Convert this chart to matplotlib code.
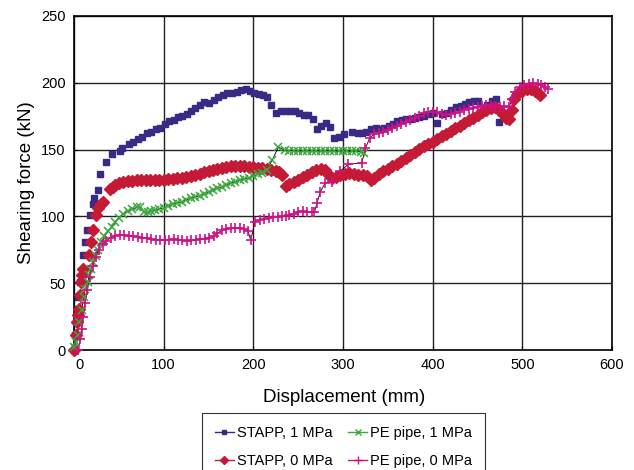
import matplotlib
matplotlib.use("Agg")
import matplotlib.pyplot as plt
import matplotlib.transforms as mtransforms
from matplotlib.lines import Line2D

plt.rcParams['font.family'] = ['Liberation Sans', 'DejaVu Sans']

# STAPP, 1 MPa (squares)
stapp1_x = [1, 1, 2, 4, 5, 7, 9.5, 10, 12.5, 15, 17.5, 21, 22, 26.5, 29, 35.5, 42, 51, 54, 61, 66, 71, 76, 81,
            86, 91, 95.5, 101, 106, 111, 115.5, 121, 125.5, 130.5, 135.5, 140.5, 145, 150, 155.7, 161, 166, 171,
            176.5, 181.7, 186.5, 191.3, 195.8, 201, 205.8, 210.7, 215.5, 220, 225.5, 230.7, 236, 241, 246.3, 250.8,
            256, 260.8, 266, 270.6, 276, 281, 286, 290.4, 295.7, 300.7, 309.6, 316.8, 321.3, 326, 331, 336.5,
            341.6, 346, 350.8, 355.6, 360.5, 365.5, 370.6, 375.8, 380.6, 384.7, 390.3, 395.5, 400.7, 405, 410.7,
            415.6, 421, 426.3, 431.3, 436, 440.8, 446, 450.8, 460.8, 466.4, 471, 474.2]
stapp1_y = [0, 11, 21, 31, 40, 51, 61, 71, 81, 90, 101, 109, 113.5, 120, 132, 141, 146.5, 149, 151, 154, 155.7,
            158, 159.4, 162.4, 163.2, 165.4, 166.2, 169.2, 171.2, 172, 174.2, 175, 176.6, 178.9, 181.1, 183.4,
            185.6, 184.7, 186.9, 189.4, 191.1, 192.6, 192.1, 193.3, 194.4, 195.4, 193.6, 192.4, 191.6, 191.1,
            189.6, 183.4, 177.6, 179.1, 179.1, 179.1, 178.9, 177.6, 175.9, 175.7, 172.7, 165.4, 167.8, 169.9,
            166.7, 158.7, 159.4, 161.5, 163, 162.4, 162.6, 163.2, 165.3, 165.9, 165.3, 165.8, 167.9, 169, 171.4,
            172.4, 172.9, 172.9, 173.3, 174.4, 175.1, 176.6, 177.6, 169.7, 176.9, 177.2, 179.3, 181.9, 183,
            184.1, 185.4, 186.1, 186.2, 183.4, 186.5, 187.9, 170.7]

# STAPP, 0 MPa (diamonds)
stapp0_x = [0.5, 1.7, 3.5, 5, 6, 6.7, 7.5, 8.7, 10.2, 17, 18.5, 21, 24, 27, 30, 32,
            40, 43, 46, 50, 55, 60, 65, 70, 75, 80, 85, 90, 95, 100, 105, 110, 115, 120, 125, 130, 135, 140,
            145, 150, 155, 160, 165, 170, 175, 180, 185, 190, 195, 200, 205, 210, 215, 220, 225, 229, 232,
            236, 240, 245, 250, 255, 260, 265, 270, 275, 280, 284, 288, 292, 297, 302, 307, 312, 317, 322, 327,
            331, 335, 340, 345, 350, 355, 360, 365, 370, 375, 380, 385, 390, 395, 400, 405, 410, 415, 420, 425,
            430, 435, 440, 445, 450, 455, 460, 465, 470, 474, 478, 482, 485, 488, 491, 495, 500, 505, 510, 514,
            518, 520]
stapp0_y = [0, 11, 21, 26, 31, 41, 51, 56, 61, 71, 81, 90, 101, 106, 109, 111,
            120.5, 122, 123.5, 125, 126, 126.5, 126.8, 127, 127, 127, 127, 127.2, 127.3, 127.5, 127.8, 128,
            128.5, 129, 129.6, 130.3, 131, 132, 133, 134, 134.7, 135.5, 136.3, 137, 137.6, 138, 138, 137.7,
            137.3, 137, 136.6, 136, 135.3, 134.7, 134, 133, 131,
            123, 124, 126, 127.5, 129.5, 131, 133, 134.5, 135.5, 134.5, 131, 128.5, 129.5, 131, 131.8, 132.2,
            131.8, 131.2, 130.8, 130, 127, 129, 131.5, 134, 135.5, 137.5, 139.5, 141.8, 144, 146, 148.5, 150.5,
            152.5, 154, 156, 158, 160, 162, 164, 166, 168, 170, 172, 174, 176, 178, 179.5, 181, 182, 180, 177,
            174, 173, 180, 188, 192, 194, 195, 195.5, 194, 192, 190.5]

# PE pipe, 1 MPa (x)
pe1_x = [0.5, 2, 4.2, 6, 8.4, 11, 12.8, 15.4, 17, 19.1, 21.5, 24.3, 27, 30.3, 34, 38, 42, 46, 50, 55, 60, 65,
         70, 74, 78, 82, 86, 90, 95, 100, 105, 110, 115, 120, 125, 130, 135, 140, 145, 150, 155, 160, 165, 170,
         175, 180, 185, 190, 195, 200, 205, 210, 215, 221, 228, 235, 240, 245, 250, 255, 260, 265, 270, 275,
         280, 285, 290, 295, 300, 305, 310, 315, 320, 323]
pe1_y = [2, 6, 11, 21, 30, 40, 46, 51, 56, 61, 66, 70.5, 75, 80.5, 85, 89, 92.3, 95.5, 98.5, 102, 104, 105.3,
         106.8, 107.3, 103.5, 103, 103.8, 104.5, 105.5, 106.5, 107.5, 109, 110, 111, 112.3, 113.5, 114.5,
         115.5, 117, 118, 119.5, 121, 122, 123.5, 125, 126, 127, 128, 129, 130, 131.5, 132.5, 134.5, 142, 152,
         149.5, 149.2, 149, 148.8, 149, 149.1, 148.9, 149, 148.8, 149, 148.9, 149, 148.7, 148.9, 148.8, 148.6,
         148.8, 148.5, 147.5]

# PE pipe, 0 MPa (+)
pe0_x = [5, 7, 8.5, 10, 12.5, 15, 18, 21, 24, 28, 32, 36, 41, 46, 51, 56, 61, 66, 71, 76, 81, 86, 91, 96, 101,
         106, 111, 116, 121, 126, 131, 136, 141, 146, 151, 156, 160, 165, 170, 175, 180, 185, 190, 194, 197,
         202, 207, 212, 217, 222, 227, 232, 236, 240, 245, 250, 255, 260, 265, 268, 271, 274.5, 280, 287.5,
         297, 306, 321, 325, 330, 335, 340, 345, 350, 355, 360, 365, 370, 375, 380, 385, 390, 395, 400, 405,
         410, 415, 420, 425, 430, 435, 440, 445, 450, 455, 460, 465, 470, 475, 480, 485, 489, 492, 497, 502,
         507, 512, 517, 521, 525, 529]
pe0_y = [0, 8, 16, 25, 35, 45, 55, 63, 69.5, 75, 79, 81.5, 84, 85.6, 86.1, 85.8, 85.3, 85.3, 84.8, 84.2, 83.6,
         82.8, 82.3, 82.3, 82.3, 82.6, 82.9, 82.5, 82, 81.8, 82, 82.5, 82.9, 83.3, 84.2, 85.3, 87.3, 89.8, 90.8,
         91.1, 91.1, 91.1, 90.3, 89, 82.5, 96, 97.3, 98, 98.8, 99.2, 99.5, 100, 100.5, 101, 102, 103.5, 103.7,
         103.5, 103.3, 103, 110, 118, 125, 126, 134, 139, 140, 151, 159, 161.5, 162.5, 163.3, 164.5, 166,
         167.5, 168.8, 171, 172.3, 173.5, 175.5, 177.5, 178.2, 178.4, 177.8, 177, 176, 176.5, 177.2, 178.5,
         179.8, 180.5, 181, 182, 182.8, 183.3, 183, 182.2, 182.2, 182.6, 182, 187.6, 193.3, 196.6, 198.5,
         199.3, 199.6, 199, 198, 196.5, 195]

labels = ["STAPP, 1 MPa", "STAPP, 0 MPa", "PE pipe, 1 MPa", "PE pipe, 0 MPa"]
c_blue = "#3b2a85"
c_red = "#c41a36"
c_green = "#3aa83a"
c_mag = "#cf1185"

fig = plt.figure(figsize=(6.34, 4.70), dpi=100)
ax = fig.add_axes([74 / 634, 1 - 350 / 470, (612 - 74) / 634, (350 - 16) / 470])

ax.grid(True, color="#222222", linewidth=1.0)
ax.set_axisbelow(True)

ax.plot(pe1_x, pe1_y, color="black", lw=0.6, zorder=2)
ax.plot(pe0_x, pe0_y, color="black", lw=0.6, zorder=2)
ax.plot(stapp1_x, stapp1_y, ls="none", marker="s", ms=4.2, color=c_blue, zorder=3, clip_on=False)
ax.plot(stapp0_x, stapp0_y, ls="none", marker="D", ms=5.8, color=c_red, zorder=3, clip_on=False)
ax.plot(pe1_x, pe1_y, ls="none", marker="x", ms=5.5, mew=1.1, color=c_green, zorder=4, clip_on=False)
ax.plot(pe0_x, pe0_y, ls="none", marker="+", ms=7, mew=1.2, color=c_mag, zorder=4, clip_on=False)

ax.set_xlim(0, 600)
ax.set_ylim(0, 250)
ax.set_xticks(range(0, 601, 100))
ax.set_yticks(range(0, 251, 50))
ax.tick_params(direction="in", length=3, labelsize=10.5, colors="black", pad=6)
for s in ax.spines.values():
    s.set_color("black")
    s.set_linewidth(1.2)

# the "0" label sits a little right of its tick in the original
shift = mtransforms.ScaledTranslation(6 / 100, 0, fig.dpi_scale_trans)
first = ax.get_xticklabels()[0]
first.set_transform(first.get_transform() + shift)

ax.set_xlabel("Displacement (mm)", fontsize=13.5)
ax.set_ylabel("Shearing force (kN)", fontsize=13.5)
ax.xaxis.set_label_coords(0.502, -0.117)
ax.yaxis.set_label_coords(-0.072, 0.5)

handles = [
    Line2D([], [], color=c_blue, lw=1, marker="s", ms=3.5),
    Line2D([], [], color=c_red, lw=1, marker="D", ms=4.5),
    Line2D([], [], color=c_green, lw=1, marker="x", ms=5, mew=1),
    Line2D([], [], color=c_mag, lw=1, marker="+", ms=6, mew=1),
]
leg = fig.legend(handles, labels, ncol=2, loc="upper center", bbox_to_anchor=(0.542, 0.122),
                 borderaxespad=0, fontsize=10.5, frameon=True, fancybox=False, edgecolor="black",
                 handlelength=1.3, handletextpad=0.2, columnspacing=1.1, labelspacing=1.0,
                 borderpad=0.9)
leg.get_frame().set_linewidth(0.8)

fig.savefig("out.png", dpi=100)
